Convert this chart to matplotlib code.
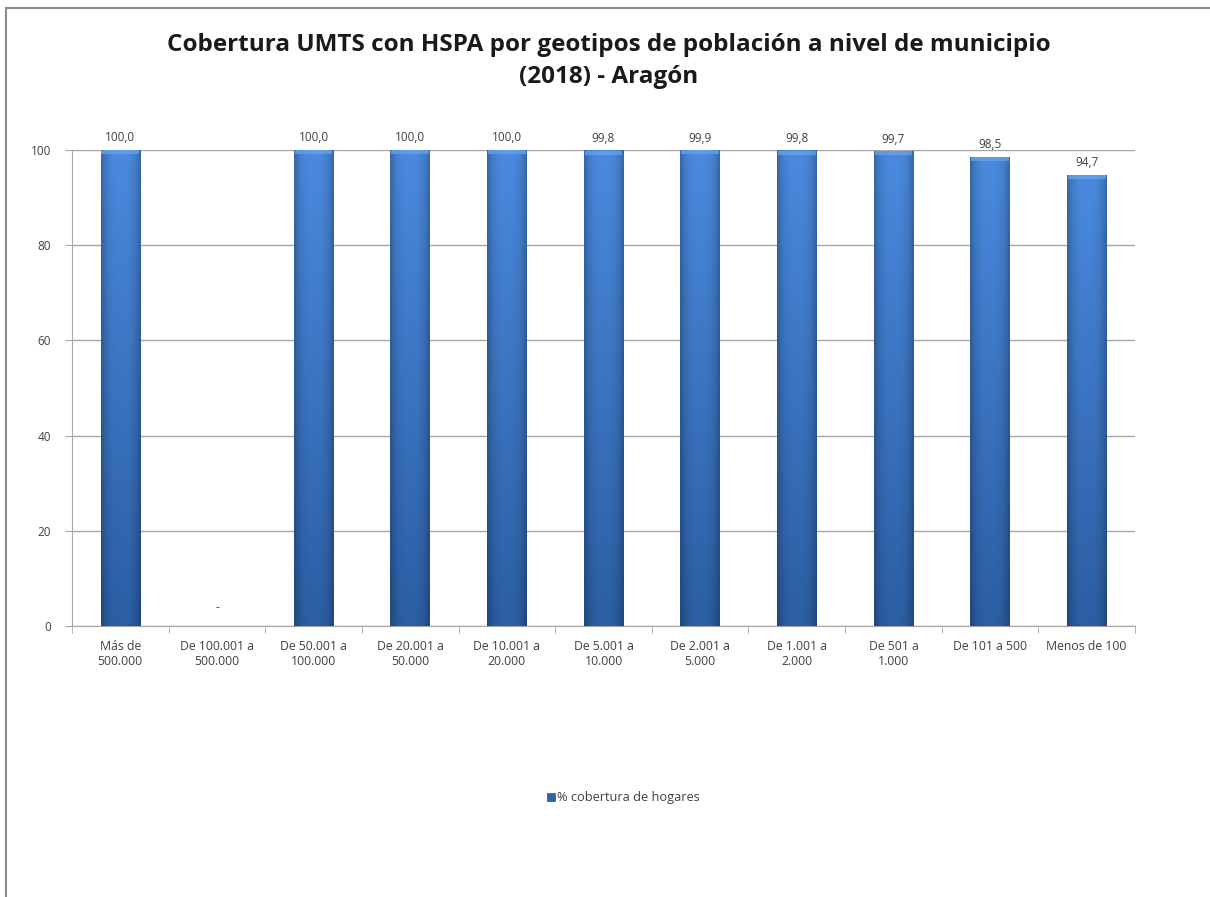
import numpy as np
import matplotlib
matplotlib.use("Agg")
import matplotlib.pyplot as plt
from matplotlib.lines import Line2D
from matplotlib.patches import Rectangle

categories = ["Más de\n500.000", "De 100.001 a\n500.000", "De 50.001 a\n100.000",
              "De 20.001 a\n50.000", "De 10.001 a\n20.000", "De 5.001 a\n10.000",
              "De 2.001 a\n5.000", "De 1.001 a\n2.000", "De 501 a\n1.000",
              "De 101 a 500", "Menos de 100"]
values = [100.0, None, 100.0, 100.0, 100.0, 99.8, 99.9, 99.8, 99.7, 98.5, 94.7]
yticks = [0, 20, 40, 60, 80, 100]
title = "Cobertura UMTS con HSPA por geotipos de población a nivel de municipio\n(2018) - Aragón"
legend_label = "% cobertura de hogares"

plt.rcParams['font.family'] = ['Open Sans', 'DejaVu Sans']
fig = plt.figure(figsize=(12.1, 8.97), dpi=100)
ax = fig.add_axes([0.0595, 0.302, 0.8785, 0.5308])

# frame lines of the chart area (top and left)
fig.add_artist(Line2D([6/1210, 1], [1-8/897, 1-8/897], color="#8c8c8c", lw=1.5, transform=fig.transFigure))
fig.add_artist(Line2D([6/1210, 6/1210], [0, 1-8/897], color="#8c8c8c", lw=1.5, transform=fig.transFigure))

x = np.arange(len(categories))
w = 0.41

# gradient image for bars
nh, nv = 40, 60
hx = np.linspace(-1, 1, nh)
hfac = 1 - 0.25 * np.abs(hx) ** 3
vy = np.linspace(0, 1, nv)[:, None]  # 0 bottom .. 1 top
top_col = np.array([0.29, 0.54, 0.87])
bot_col = np.array([0.17, 0.37, 0.64])
base = bot_col + (top_col - bot_col) * vy[..., None] * np.ones((1, nh, 1))
img = base * hfac[None, :, None]
img = np.clip(img, 0, 1)[::-1]

for xi, v in zip(x, values):
    if v is None:
        ax.text(xi, 2.5, "-", ha="center", va="bottom", fontsize=8.5, color="#404040")
        continue
    ax.imshow(img, extent=[xi - w/2, xi + w/2, 0, v], aspect="auto", zorder=3, interpolation="bilinear")
    ax.add_patch(Rectangle((xi - w/2 + 0.01, v - 0.8), w - 0.02, 0.8, facecolor="#6aa6ec",
                           edgecolor="none", zorder=4, alpha=0.7))
    ax.text(xi, v + 1.2, f"{v:.1f}".replace(".", ","), ha="center", va="bottom",
            fontsize=8.5, color="#404040")

ax.set_xlim(-0.5, len(categories) - 0.5)
ax.set_ylim(0, 100)
ax.set_yticks(yticks)
ax.set_yticklabels([str(t) for t in yticks], fontsize=8.5, color="#404040")
ax.yaxis.grid(True, color="#a6a6a6", lw=1)
ax.set_axisbelow(True)
ax.set_xticks(x)
ax.set_xticklabels(categories, fontsize=8.8, color="#404040", linespacing=1.25)
ax.set_xticks(np.arange(-0.5, len(categories)), minor=True)
ax.tick_params(axis="x", which="major", length=0, pad=10)
ax.tick_params(axis="x", which="minor", length=5, color="#a6a6a6", direction="out")
ax.tick_params(axis="y", length=5, color="#a6a6a6", pad=10)
for s in ["top", "right"]:
    ax.spines[s].set_visible(False)
ax.spines["left"].set_color("#a6a6a6")
ax.spines["bottom"].set_color("#a6a6a6")

fig.text(0.503, 1 - 61/897, title, ha="center", va="center", fontsize=17.5,
         fontweight="bold", color="#1a1a1a", linespacing=1.4)

# legend
lx, ly = 556/1210, 1 - 797/897
fig.add_artist(Rectangle((lx - 0.0075, ly - 0.005), 0.0068, 0.0095, transform=fig.transFigure,
                         facecolor="#2f62a8", edgecolor="#1f4f8f", lw=0.5))
fig.text(lx + 0.0005, ly, legend_label, ha="left", va="center", fontsize=9.2, color="#404040")

fig.savefig("out.png", dpi=100)
